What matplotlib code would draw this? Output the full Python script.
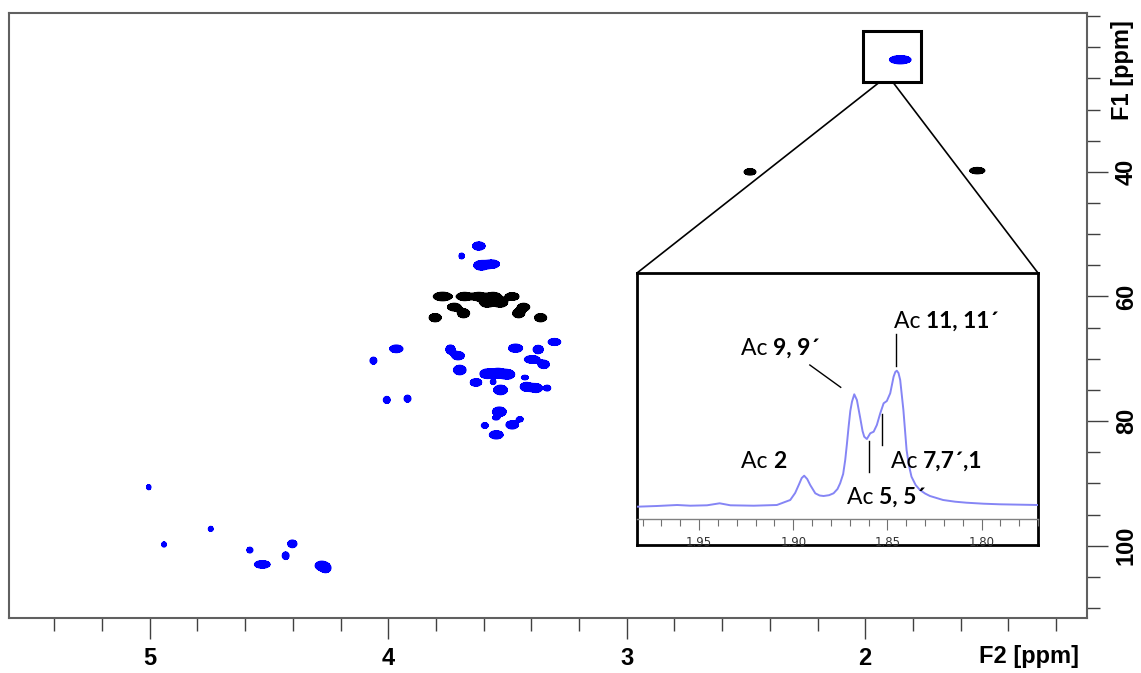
import numpy as np
import matplotlib
matplotlib.use("Agg")
import matplotlib.pyplot as plt
from matplotlib.patches import Rectangle, ConnectionPatch
from matplotlib.ticker import MultipleLocator

# ---------------- data ----------------
# HSQC cross peaks (blue): F2 ppm, F1 ppm, F2 extent, F1 extent
blue_f2 = [1.853, 3.620, 3.692, 3.610, 3.565, 3.303, 3.739, 3.466, 3.371, 3.707,
           3.397, 3.348, 3.700, 3.585, 3.540, 3.500, 3.427, 3.632, 3.560, 3.529,
           3.420, 3.380, 3.333, 3.534, 3.548, 3.448, 3.595, 3.480, 3.547, 3.966,
           4.062, 4.006, 3.919, 5.004, 4.744, 4.940, 4.580, 4.402, 4.430, 4.528,
           4.280, 4.262]
blue_f1 = [22.0, 51.9, 53.5, 55.0, 54.8, 67.3, 68.5, 68.3, 68.5, 69.5,
           70.1, 70.9, 71.8, 72.4, 72.3, 72.5, 73.0, 73.8, 73.7, 75.0,
           74.5, 74.7, 74.7, 78.5, 79.5, 79.7, 80.7, 80.6, 82.2, 68.4,
           70.3, 76.6, 76.4, 90.6, 97.3, 99.8, 100.7, 99.7, 101.6, 103.0,
           103.2, 103.6]
blue_w2 = [0.090, 0.052, 0.022, 0.062, 0.062, 0.052, 0.038, 0.058, 0.042, 0.052,
           0.063, 0.047, 0.052, 0.060, 0.060, 0.060, 0.028, 0.047, 0.022, 0.057,
           0.052, 0.052, 0.028, 0.057, 0.028, 0.028, 0.028, 0.052, 0.057, 0.055,
           0.028, 0.028, 0.028, 0.018, 0.020, 0.020, 0.025, 0.038, 0.028, 0.065,
           0.052, 0.042]
blue_w1 = [1.3, 1.3, 0.9, 1.5, 1.3, 1.1, 1.4, 1.3, 1.3, 1.3,
           1.2, 1.3, 1.5, 1.5, 1.5, 1.5, 0.7, 1.2, 0.8, 1.5,
           1.4, 1.4, 0.9, 1.5, 0.6, 0.8, 0.9, 1.3, 1.3, 1.2,
           1.1, 1.1, 1.1, 0.8, 0.8, 0.8, 0.9, 1.2, 1.2, 1.2,
           1.4, 1.4]

# HSQC cross peaks (black)
black_f2 = [2.483, 1.530, 3.772, 3.680, 3.620, 3.560, 3.585, 3.530, 3.480, 3.723,
            3.432, 3.684, 3.453, 3.803, 3.361]
black_f1 = [40.0, 39.8, 60.0, 60.0, 60.0, 60.0, 61.0, 61.0, 60.0, 61.7,
            61.7, 62.7, 62.7, 63.4, 63.4]
black_w2 = [0.049, 0.063, 0.077, 0.065, 0.065, 0.065, 0.060, 0.060, 0.056, 0.056,
            0.050, 0.050, 0.050, 0.050, 0.050]
black_w1 = [1.0, 1.0, 1.35, 1.3, 1.3, 1.3, 1.4, 1.4, 1.2, 1.2,
            1.2, 1.4, 1.4, 1.3, 1.3]

# 1D 1H projection (inset): chemical shift and intensity
spec_ppm = [1.983, 1.9724, 1.9617, 1.9547, 1.9458, 1.9391, 1.9334, 1.9210, 1.9087,
            1.9016, 1.8990, 1.8971, 1.8955, 1.8942, 1.8926, 1.8910, 1.8883, 1.8860,
            1.8839, 1.8810, 1.8786, 1.8765, 1.8751, 1.8735, 1.8724, 1.8715, 1.8706,
            1.8697, 1.8688, 1.8676, 1.8662, 1.8644, 1.8632, 1.8623, 1.8609, 1.8591,
            1.8573, 1.8556, 1.8538, 1.8520, 1.8503, 1.8485, 1.8467, 1.8458, 1.8450,
            1.8441, 1.8432, 1.8415, 1.8398, 1.8386, 1.8372, 1.8350, 1.8327, 1.8300,
            1.8274, 1.8204, 1.8140, 1.8080, 1.7990, 1.7903, 1.7701]
spec_int = [0.3, 1.0, 2.0, 1.3, 1.7, 3.7, 1.7, 1.3, 2.0,
            7.0, 14.0, 22.0, 29.0, 31.3, 28.0, 22.0, 13.7, 11.5,
            11.0, 11.8, 13.7, 18.0, 23.7, 33.0, 47.0, 63.0, 80.3,
            96.0, 105.3, 112.7, 107.0, 88.7, 76.0, 70.3, 68.0, 73.7,
            75.3, 82.0, 93.7, 103.7, 106.0, 113.7, 130.3, 135.0, 136.3,
            134.0, 127.0, 97.0, 57.0, 42.0, 30.3, 22.0, 17.0, 13.5,
            11.0, 7.0, 5.3, 4.3, 3.3, 2.7, 2.0]

x_ticks = [5, 4, 3, 2]
y_ticks = [40, 60, 80, 100]
inset_ticks = [1.95, 1.90, 1.85, 1.80]

# ---------------- figure ----------------
W, H = 1141, 673
fig = plt.figure(figsize=(W / 100, H / 100), dpi=100)
ax = fig.add_axes([9 / W, 1 - 618 / H, 1078 / W, 605 / H])
ax.set_xlim(5.59, 1.07)
ax.set_ylim(111.6, 14.5)

xg = np.linspace(1.07, 5.6, 1800)
yg = np.linspace(14.0, 112.0, 1000)
K = np.sqrt(2 * np.log(4.0))


def grid(f2, f1, w2, w1):
    Z = np.zeros((yg.size, xg.size))
    for a, b, c, d in zip(f2, f1, w2, w1):
        sx = (c / 2) / K
        sy = (d / 2) / K
        gx = np.exp(-(xg - a) ** 2 / (2 * sx ** 2))
        gy = np.exp(-(yg - b) ** 2 / (2 * sy ** 2))
        Z += np.outer(gy, gx)
    return Z


for zf2, zf1, zw2, zw1, col in ((black_f2, black_f1, black_w2, black_w1, "black"),
                                (blue_f2, blue_f1, blue_w2, blue_w1, "#0000ff")):
    Z = grid(zf2, zf1, zw2, zw1)
    ax.contourf(xg, yg, Z, levels=[0.25, 100], colors=[col])
    ax.contour(xg, yg, Z, levels=[0.25, 0.5], colors=[col], linewidths=0.9)

for s in ax.spines.values():
    s.set_color("#606060")
    s.set_linewidth(1.5)

ax.set_xticks(x_ticks)
ax.set_xticklabels([str(v) for v in x_ticks])
ax.xaxis.set_minor_locator(MultipleLocator(0.2))
ax.yaxis.tick_right()
ax.set_yticks(y_ticks)
ax.yaxis.set_minor_locator(MultipleLocator(5))
ax.set_yticklabels([str(v) for v in y_ticks])
ax.tick_params(axis="both", which="major", direction="out", length=15, width=1,
               color="#404040", labelsize=17)
ax.tick_params(axis="both", which="minor", direction="out", length=9, width=1,
               color="#404040")
ax.tick_params(axis="x", pad=6)
ax.tick_params(axis="y", pad=5)
for lbl in ax.get_xticklabels():
    lbl.set_fontweight("bold")
    lbl.set_family(["Liberation Sans Narrow", "Liberation Sans"])
for lbl in ax.get_yticklabels():
    lbl.set_fontweight("bold")
    lbl.set_family(["Liberation Sans Narrow", "Liberation Sans"])
    lbl.set_rotation(90)
    lbl.set_va("center")

fig.text(1029 / W, 1 - 657 / H, "F2 [ppm]", ha="center", va="center",
         fontsize=17, fontweight="bold",
         family=["Liberation Sans Narrow", "Liberation Sans"])
fig.text(1122 / W, 1 - 70 / H, "F1 [ppm]", ha="center", va="center",
         rotation=90, fontsize=17, fontweight="bold",
         family=["Liberation Sans Narrow", "Liberation Sans"])

# zoom box around the acetyl cross peak
ax.add_patch(Rectangle((1.765, 17.4), 0.243, 8.2, fill=False, edgecolor="black",
                       linewidth=2.2, zorder=5))

# ---------------- inset ----------------
box = fig.add_axes([637 / W, 1 - 545 / H, 401 / W, 272 / H])
box.set_xticks([])
box.set_yticks([])
for s in box.spines.values():
    s.set_color("black")
    s.set_linewidth(2)
box.set_facecolor("white")

ax_in = fig.add_axes([637 / W, 1 - 519 / H, 401 / W, 246 / H])
ax_in.patch.set_alpha(0)
for k in ("top", "left", "right"):
    ax_in.spines[k].set_visible(False)
ax_in.spines["bottom"].set_color("#808080")
ax_in.spines["bottom"].set_linewidth(1.0)
ax_in.plot(spec_ppm, spec_int, color="#8585f5", linewidth=1.4)
ax_in.set_xlim(1.983, 1.770)
ax_in.set_ylim(-12, 234)
ax_in.set_yticks([])
ax_in.set_xticks(inset_ticks)
ax_in.set_xticklabels(["%.2f" % v for v in inset_ticks])
ax_in.xaxis.set_minor_locator(MultipleLocator(0.01))
ax_in.tick_params(axis="x", which="major", length=8, width=0.8, color="#707070",
                  labelsize=8.5, labelcolor="#333333", pad=4)
ax_in.tick_params(axis="x", which="minor", length=5, width=0.8, color="#707070")

TF = ["Lato", "DejaVu Sans"]


def label(x, y, normal, bold):
    t = ax_in.text(x, y, normal, fontsize=16.5, family=TF, ha="left", va="center")
    ax_in.annotate(bold, xy=(1, 0.5), xycoords=t, fontsize=16.5, family=TF,
                   fontweight="bold", ha="left", va="center")


label(1.9278, 158.7, "Ac ", "9, 9´")
label(1.8466, 185.3, "Ac ", "11, 11´")
label(1.9278, 45.3, "Ac ", "2")
label(1.8717, 9.3, "Ac ", "5, 5´")
label(1.8481, 45.3, "Ac ", "7,7´,1")

ax_in.plot([1.8912, 1.8748], [142, 119.7], color="black", linewidth=1)
ax_in.plot([1.8456, 1.8456], [172.7, 141], color="black", linewidth=1)
ax_in.plot([1.8600, 1.8600], [66.3, 35], color="black", linewidth=1)
ax_in.plot([1.8529, 1.8529], [93, 62], color="black", linewidth=1)

# connector lines from zoom box to inset
for xa, corner in ((1.940, (0, 1)), (1.884, (1, 1))):
    con = ConnectionPatch(xyA=(xa, 25.6), coordsA=ax.transData,
                          xyB=corner, coordsB=box.transAxes,
                          color="black", linewidth=1.2)
    fig.add_artist(con)

fig.savefig("out.png", dpi=100)
